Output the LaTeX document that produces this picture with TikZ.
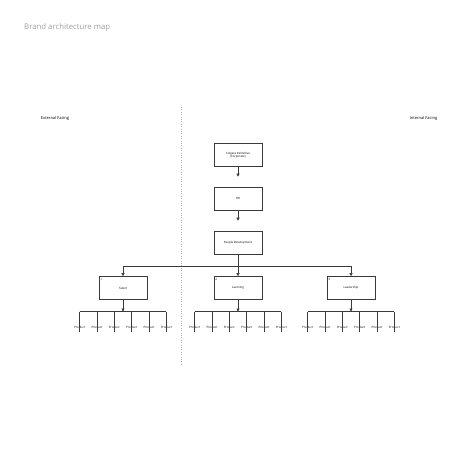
\documentclass[tikz,border=0pt]{standalone}
\usepackage{fontspec}
\setmainfont{Open Sans}
\usetikzlibrary{arrows.meta}
\definecolor{linec}{HTML}{3A3A3A}
\definecolor{titlec}{HTML}{A0A0A0}
\definecolor{dotc}{HTML}{B0B0B0}
\tikzset{
  box/.style={draw=linec, line width=0.6pt, minimum width=48pt, minimum height=23pt, inner sep=0pt, align=center, font=\fontsize{2.9}{3.4}\selectfont},
  conn/.style={draw=linec, line width=0.5pt},
  arr/.style={conn, -{Triangle[length=3pt,width=3pt]}},
  prod/.style={inner sep=0pt, font=\fontsize{3}{3.4}\selectfont},
  num/.style={inner sep=0pt, anchor=north west, font=\fontsize{3}{3.4}\selectfont},
  side/.style={inner sep=0pt, font=\fontsize{4}{4.5}\selectfont}
}
\begin{document}
\begin{tikzpicture}[x=1pt,y=-1pt]
\useasboundingbox (0,0) rectangle (474,474);
\node[anchor=west, inner sep=0pt, text=titlec, font=\fontsize{7.8}{9}\selectfont] (title) at (24,27.5) {Brand architecture map};
\node[side] (ext) at (55,118) {External Facing};
\node[side] (int) at (423.5,118) {Internal Facing};
\coordinate (dtop) at (181,107);
\coordinate (dbot) at (181,366);
\draw[dotc, line width=0.6pt, dash pattern=on 0.8pt off 1.6pt] (dtop) -- (dbot);

\node[box] (corp) at (238,155) {Colgate Palmolive\\(Corporate)};
\node[box] (hr) at (238,198.5) {HR};
\node[box] (pd) at (238,242.5) {People Development};
\draw[arr, shorten >=10pt] (corp) -- (hr);
\draw[arr, shorten >=10pt] (hr) -- (pd);

\coordinate (busL) at (123,266);
\coordinate (busM) at (238,266);
\coordinate (busR) at (351,266);
\draw[conn] (pd.south) -- (busM);
\draw[conn] (busL) -- (busR);

\foreach \nm/\cx/\lab/\n in {tal/123/Talent/1, lea/238/Learning/2, ldr/351/Leadership/3}{
  \node[box] (\nm) at (\cx,288) {\lab};
  \node[num] (\nm-num) at ([xshift=1.5pt,yshift=-1.5pt]\nm.north west) {\n};
  \coordinate (\nm-in) at (\cx,266);
  \draw[arr] (\nm-in) -- (\nm.north);
  \coordinate (\nm-bus) at (\cx,311.5);
  \draw[arr] (\nm.south) -- (\nm-bus);
  \foreach \k [count=\i] in {-43.4,-26,-8.7,8.7,26,43.4}{
    \coordinate (\nm-p\i-top) at (\cx+\k,311.5);
    \node[prod, anchor=north] (\nm-p\i) at (\cx+\k,326.5) {Product};
    \draw[conn] (\nm-p\i-top) -- ([yshift=-5pt]\nm-p\i.north);
  }
  \draw[conn] (\nm-p1-top) -- (\nm-p6-top);
}
\end{tikzpicture}
\end{document}
